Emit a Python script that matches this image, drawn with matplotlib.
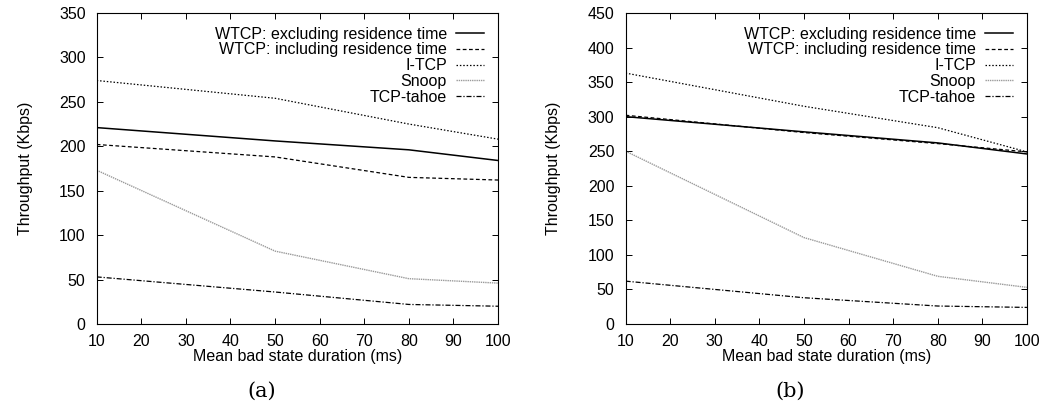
import matplotlib
matplotlib.use("Agg")
import matplotlib.pyplot as plt

# Mean bad state duration (ms) -- sample points
durations = [10, 50, 80, 100]

series_names = [
    "WTCP: excluding residence time",
    "WTCP: including residence time",
    "I-TCP",
    "Snoop",
    "TCP-tahoe",
]

# panel (a) throughput in Kbps
a_wtcp_excl = [221, 206, 196, 184]
a_wtcp_incl = [202, 188, 165, 162]
a_itcp = [274, 254, 225, 208]
a_snoop = [173, 82, 51, 46]
a_tahoe = [53, 36, 22, 20]

# panel (b) throughput in Kbps
b_wtcp_excl = [300, 278, 262, 246]
b_wtcp_incl = [302, 277, 261, 249]
b_itcp = [363, 315, 284, 249]
b_snoop = [250, 125, 69, 53]
b_tahoe = [62, 38, 26, 24]

x_ticks = [10, 20, 30, 40, 50, 60, 70, 80, 90, 100]

styles = [
    dict(color="black", linestyle="-", linewidth=1.1),
    dict(color="black", linestyle=(0, (3, 2)), linewidth=0.9),
    dict(color="black", linestyle=(0, (1.2, 1.5)), linewidth=0.9),
    dict(color="#9a9a9a", linestyle=(0, (1, 0.6)), linewidth=1.0),
    dict(color="black", linestyle=(0, (4, 1.5, 1, 1.5)), linewidth=0.9),
]

plt.rcParams["font.family"] = ["Liberation Sans", "DejaVu Sans"]
fs = 11.5

fig = plt.figure(figsize=(10.41, 4.05), dpi=100)
ax_a = fig.add_axes([0.0929, 0.2, 0.3855, 0.768])
ax_b = fig.add_axes([0.601, 0.2, 0.3855, 0.768])


def draw_panel(ax, data, ymax, tag, tag_x):
    for name, vals, st in zip(series_names, data, styles):
        ax.plot(durations, vals, label=name, **st)
    ax.set_xlim(10, 100)
    ax.set_ylim(0, ymax)
    ax.set_xticks(x_ticks)
    ax.set_yticks(range(0, ymax + 1, 50))
    ax.tick_params(direction="in", top=True, right=True, labelsize=fs,
                   length=4, width=0.7)
    ax.tick_params(axis="x", pad=7)
    ax.tick_params(axis="y", pad=8)
    for sp in ax.spines.values():
        sp.set_linewidth(0.8)
    ax.set_xlabel("Mean bad state duration (ms)", fontsize=fs, labelpad=0)
    ax.set_ylabel("Throughput (Kbps)", fontsize=fs, labelpad=19)
    ax.legend(loc="upper right", frameon=False, markerfirst=False,
              fontsize=fs, handlelength=1.75, handletextpad=0.6,
              labelspacing=0.05, borderaxespad=0.6,
              borderpad=0.25)
    fig.text(tag_x, 0.035, tag, ha="center", va="center",
             fontsize=15, family=["DejaVu Serif"])


draw_panel(ax_a, [a_wtcp_excl, a_wtcp_incl, a_itcp, a_snoop, a_tahoe],
           350, "(a)", 261.7 / 1041)
draw_panel(ax_b, [b_wtcp_excl, b_wtcp_incl, b_itcp, b_snoop, b_tahoe],
           450, "(b)", 790 / 1041)

fig.savefig("out.png", dpi=100)
plt.close(fig)
